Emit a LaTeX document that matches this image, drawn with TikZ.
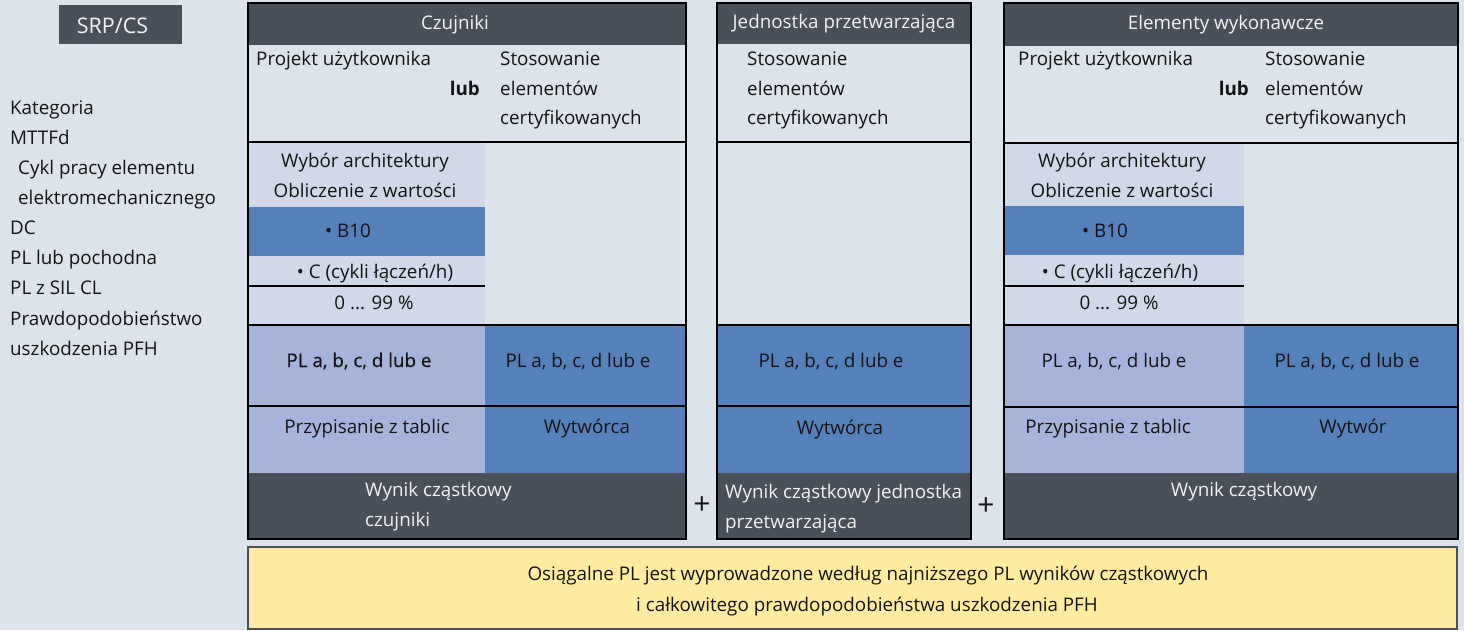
\documentclass[tikz,border=0pt]{standalone}
\usepackage{fontspec}
\setmainfont{Open Sans}
\newfontface\semib{Open Sans}[FakeBold=0.6]
\definecolor{bgc}{RGB}{221,227,234}
\definecolor{darkc}{RGB}{73,80,89}
\definecolor{midc}{RGB}{85,128,185}
\definecolor{paleb}{RGB}{165,180,216}
\definecolor{lightc}{RGB}{208,216,234}
\definecolor{yel}{RGB}{255,236,161}
\definecolor{txt}{RGB}{20,20,20}
\definecolor{wtxt}{RGB}{242,242,242}
\begin{document}
\begin{tikzpicture}[x=1pt,y=-1pt,
  every node/.style={inner sep=0pt, font=\fontsize{18.8}{22}\selectfont, text=txt},
  lw/.style={anchor=base west},
  lc/.style={anchor=base},
  le/.style={anchor=base east},
  wt/.style={text=wtxt},
  plus/.style={anchor=center, font=\fontsize{30}{32}\selectfont},
  sep/.style={draw=black, line width=1.6pt},
  frame/.style={draw=black, line width=2pt}]
\fill[bgc] (0,0) rectangle (1464,630);
\useasboundingbox (0,0) rectangle (1464,630);

% ---------- left legend ----------
\fill[darkc] (59,5) rectangle (182,44);
\node[lc,wt,font=\fontsize{21.5}{24}\selectfont] (srp) at (112.5,33) {SRP/CS};
\node[lw] (k1) at (10,114) {Kategoria};
\node[lw] (k2) at (10,144) {MTTFd};
\node[lw] (k3) at (18,174) {Cykl pracy elementu};
\node[lw] (k4) at (18,204) {elektromechanicznego};
\node[lw] (k5) at (10,234) {DC};
\node[lw] (k6) at (10,264) {PL lub pochodna};
\node[lw] (k7) at (10,294) {PL z SIL CL};
\node[lw] (k8) at (10,325) {Prawdopodobieństwo};
\node[lw] (k9) at (10,355) {uszkodzenia PFH};

% ---------- column 1: Czujniki ----------
\fill[lightc] (248,142) rectangle (485,325);
\fill[midc] (248,207) rectangle (485,256);
\fill[paleb] (248,325) rectangle (485,473);
\fill[midc] (485,325) rectangle (686,473);
\fill[darkc] (248,3) rectangle (686,45);
\fill[darkc] (248,473) rectangle (686,539);
\draw[sep] (248,142) -- (686,142);
\draw[sep] (248,286) -- (485,286);
\draw[sep] (248,325) -- (686,325);
\draw[sep] (248,406) -- (686,406);
\draw[frame] (248,3) rectangle (686,539);
\node[lc,wt] (c1h) at (455,29) {Czujniki};
\node[lw] (c1p) at (256,65) {Projekt użytkownika};
\node[le,font=\fontsize{18.8}{22}\selectfont\bfseries] (c1lub) at (480,95) {lub};
\node[lw] (c1s1) at (500,65) {Stosowanie};
\node[lw] (c1s2) at (500,95) {elementów};
\node[lw] (c1s3) at (500,124) {certyfikowanych};
\node[lc] (c1w1) at (365,167) {Wybór architektury};
\node[lc] (c1w2) at (365,197) {Obliczenie z wartości};
\node[lc] (c1b) at (348,237) {• B10};
\node[lc] (c1c) at (375,278) {• C (cykli łączeń/h)};
\node[lc] (c1d) at (374,309) {0 ... 99 \%};
\node[lc,font=\fontsize{18.8}{22}\semib] (c1pl) at (359,367) {PL a, b, c, d lub e};
\node[lc] (c1pr) at (578,367) {PL a, b, c, d lub e};
\node[lc] (c1t) at (367,433) {Przypisanie z tablic};
\node[lc] (c1m) at (587,433) {Wytwórca};
\node[lw,wt] (c1r1) at (365,496) {Wynik cząstkowy};
\node[lw,wt] (c1r2) at (365,526) {czujniki};
\node[plus] (plus1) at (702,506) {+};

% ---------- column 2: Jednostka przetwarzajaca ----------
\fill[darkc] (717,3) rectangle (971,44);
\fill[midc] (717,325) rectangle (971,473);
\fill[darkc] (717,473) rectangle (971,539);
\draw[sep] (717,142) -- (971,142);
\draw[sep] (717,325) -- (971,325);
\draw[sep] (717,406) -- (971,406);
\draw[frame] (717,3) rectangle (971,539);
\node[lc,wt] (c2h) at (844,28) {Jednostka przetwarzająca};
\node[lw] (c2s1) at (747,65) {Stosowanie};
\node[lw] (c2s2) at (747,95) {elementów};
\node[lw] (c2s3) at (747,124) {certyfikowanych};
\node[lc] (c2pl) at (831,367) {PL a, b, c, d lub e};
\node[lc] (c2m) at (840,434) {Wytwórca};
\node[lw,wt] (c2r1) at (725,498) {Wynik cząstkowy jednostka};
\node[lw,wt] (c2r2) at (725,528) {przetwarzająca};
\node[plus] (plus2) at (986,507) {+};

% ---------- column 3: Elementy wykonawcze ----------
\fill[lightc] (1004,143) rectangle (1244,325);
\fill[midc] (1004,206) rectangle (1244,255);
\fill[paleb] (1004,325) rectangle (1244,473);
\fill[midc] (1244,325) rectangle (1458,473);
\fill[darkc] (1004,3) rectangle (1458,46);
\fill[darkc] (1004,473) rectangle (1458,539);
\draw[sep] (1004,143) -- (1458,143);
\draw[sep] (1004,286) -- (1244,286);
\draw[sep] (1004,325) -- (1458,325);
\draw[sep] (1004,407) -- (1458,407);
\draw[frame] (1004,3) rectangle (1458,539);
\node[lc,wt] (c3h) at (1226,29) {Elementy wykonawcze};
\node[lw] (c3p) at (1018,65) {Projekt użytkownika};
\node[le,font=\fontsize{18.8}{22}\selectfont\bfseries] (c3lub) at (1249,95) {lub};
\node[lw] (c3s1) at (1265,65) {Stosowanie};
\node[lw] (c3s2) at (1265,95) {elementów};
\node[lw] (c3s3) at (1265,124) {certyfikowanych};
\node[lc] (c3w1) at (1122,167) {Wybór architektury};
\node[lc] (c3w2) at (1122,197) {Obliczenie z wartości};
\node[lc] (c3b) at (1105,237) {• B10};
\node[lc] (c3c) at (1120,278) {• C (cykli łączeń/h)};
\node[lc] (c3d) at (1119,309) {0 ... 99 \%};
\node[lc] (c3pl) at (1114,367) {PL a, b, c, d lub e};
\node[lc] (c3pr) at (1347,367) {PL a, b, c, d lub e};
\node[lc] (c3t) at (1108,433) {Przypisanie z tablic};
\node[lc] (c3m) at (1353,433) {Wytwór};
\node[lc,wt] (c3r) at (1244,496) {Wynik cząstkowy};

% ---------- result ----------
\fill[yel] (248,547) rectangle (1457,629);
\draw[draw=darkc, line width=1.5pt] (248,547) rectangle (1457,629);
\node[lc] (res1) at (868,580) {Osiągalne PL jest wyprowadzone według najniższego PL wyników cząstkowych};
\node[lc] (res2) at (867,611) {i całkowitego prawdopodobieństwa uszkodzenia PFH};
\end{tikzpicture}
\end{document}
